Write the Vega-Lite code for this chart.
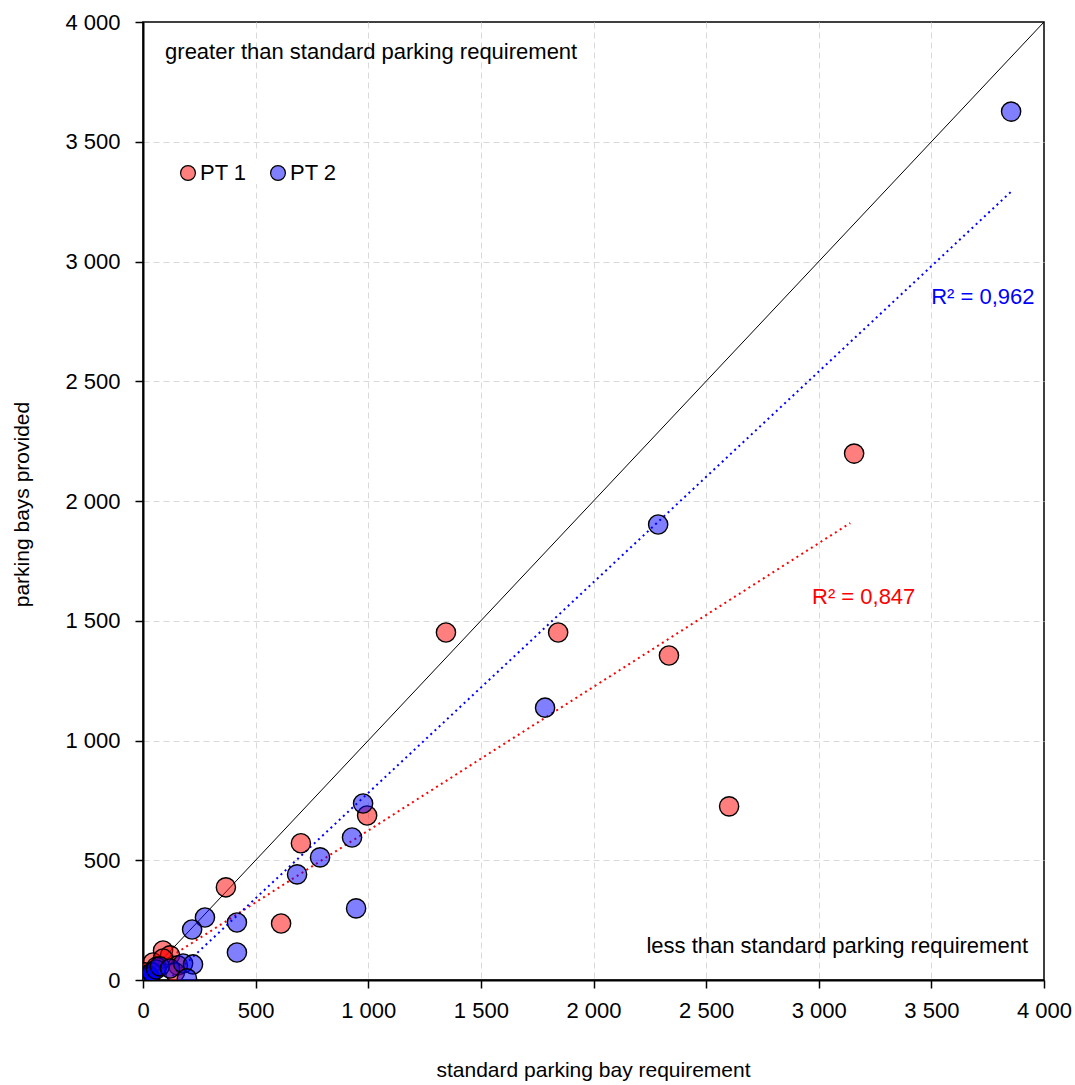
{
  "$schema": "https://vega.github.io/schema/vega-lite/v6.json",
  "width": 901,
  "height": 958,
  "autosize": "none",
  "padding": {"left": 143, "top": 22, "right": 31, "bottom": 105},
  "background": "white",
  "config": {
    "font": "Liberation Sans",
    "view": {"stroke": "black", "strokeWidth": 1.5},
    "axis": {
      "labelFont": "Liberation Sans",
      "titleFont": "Liberation Sans",
      "labelFontSize": 22,
      "titleFontSize": 21,
      "labelColor": "black",
      "titleColor": "black",
      "titleFontWeight": "normal",
      "domainColor": "black",
      "domainWidth": 2,
      "tickColor": "black",
      "tickWidth": 1.5,
      "tickSize": 8,
      "grid": true,
      "gridColor": "#d9d9d9",
      "gridDash": [6, 4],
      "gridWidth": 1,
      "gridOpacity": {"condition": {"test": "datum.value === 0 || datum.value === 4000", "value": 0}, "value": 1}
    }
  },
  "datasets": {
    "points": [
      {"series": "PT 1", "standard": 1345, "provided": 1451},
      {"series": "PT 1", "standard": 1843, "provided": 1451},
      {"series": "PT 1", "standard": 2335, "provided": 1355},
      {"series": "PT 1", "standard": 2602, "provided": 725},
      {"series": "PT 1", "standard": 3157, "provided": 2198},
      {"series": "PT 1", "standard": 995, "provided": 687},
      {"series": "PT 1", "standard": 701, "provided": 571},
      {"series": "PT 1", "standard": 368, "provided": 387},
      {"series": "PT 1", "standard": 613, "provided": 236},
      {"series": "PT 1", "standard": 89, "provided": 123},
      {"series": "PT 1", "standard": 120, "provided": 103},
      {"series": "PT 1", "standard": 44, "provided": 73},
      {"series": "PT 1", "standard": 89, "provided": 90},
      {"series": "PT 1", "standard": 9, "provided": 32},
      {"series": "PT 1", "standard": 155, "provided": 61},
      {"series": "PT 1", "standard": 142, "provided": 32},
      {"series": "PT 1", "standard": 60, "provided": 55},
      {"series": "PT 2", "standard": 3854, "provided": 3626},
      {"series": "PT 2", "standard": 2287, "provided": 1902},
      {"series": "PT 2", "standard": 1785, "provided": 1137},
      {"series": "PT 2", "standard": 977, "provided": 737},
      {"series": "PT 2", "standard": 928, "provided": 595},
      {"series": "PT 2", "standard": 786, "provided": 512},
      {"series": "PT 2", "standard": 684, "provided": 441},
      {"series": "PT 2", "standard": 946, "provided": 299},
      {"series": "PT 2", "standard": 417, "provided": 240},
      {"series": "PT 2", "standard": 417, "provided": 115},
      {"series": "PT 2", "standard": 275, "provided": 261},
      {"series": "PT 2", "standard": 218, "provided": 211},
      {"series": "PT 2", "standard": 0, "provided": 7},
      {"series": "PT 2", "standard": 5, "provided": 3},
      {"series": "PT 2", "standard": 13, "provided": 11},
      {"series": "PT 2", "standard": 22, "provided": 19},
      {"series": "PT 2", "standard": 30, "provided": 14},
      {"series": "PT 2", "standard": 40, "provided": 32},
      {"series": "PT 2", "standard": 58, "provided": 44},
      {"series": "PT 2", "standard": 75, "provided": 57},
      {"series": "PT 2", "standard": 120, "provided": 48},
      {"series": "PT 2", "standard": 178, "provided": 69},
      {"series": "PT 2", "standard": 222, "provided": 65},
      {"series": "PT 2", "standard": 195, "provided": 7}
    ],
    "diagonal": [
      {"standard": 0, "provided": 0},
      {"standard": 4000, "provided": 4000}
    ],
    "trendPT1": [
      {"standard": 0, "provided": 24},
      {"standard": 3140, "provided": 1908}
    ],
    "trendPT2": [
      {"standard": 112, "provided": 0},
      {"standard": 3860, "provided": 3297}
    ],
    "noteLeft": [
      {"standard": 98, "provided": 3873, "text": "greater than standard parking requirement"}
    ],
    "noteRight": [
      {"standard": 3929, "provided": 140, "text": "less than standard parking requirement"}
    ],
    "noteBlue": [
      {"standard": 3499, "provided": 2850, "text": "R² = 0,962"}
    ],
    "noteRed": [
      {"standard": 2970, "provided": 1601, "text": "R² = 0,847"}
    ]
  },
  "layer": [
    {
      "data": {"name": "diagonal"},
      "mark": {"type": "line", "color": "black", "strokeWidth": 1, "clip": true},
      "encoding": {
        "x": {
          "field": "standard",
          "type": "quantitative",
          "scale": {"domain": [0, 4000], "nice": false},
          "axis": {
            "values": [0, 500, 1000, 1500, 2000, 2500, 3000, 3500, 4000],
            "labelExpr": "replace(format(datum.value, ','), ',', ' ')",
            "title": "standard parking bay requirement",
            "labelPadding": 12,
            "labelFlush": false,
            "titleX": 450,
            "titleY": 90,
            "titleBaseline": "middle",
            "titleAlign": "center"
          }
        },
        "y": {
          "field": "provided",
          "type": "quantitative",
          "scale": {"domain": [0, 4000], "nice": false},
          "axis": {
            "values": [0, 500, 1000, 1500, 2000, 2500, 3000, 3500, 4000],
            "labelExpr": "replace(format(datum.value, ','), ',', ' ')",
            "title": "parking bays provided",
            "labelPadding": 15,
            "labelFlush": false,
            "titleX": -121,
            "titleY": 482,
            "titleAngle": -90,
            "titleBaseline": "middle",
            "titleAlign": "center"
          }
        }
      }
    },
    {
      "data": {"name": "trendPT1"},
      "mark": {"type": "line", "color": "#ff0000", "strokeWidth": 2, "strokeDash": [2, 3.7], "clip": true},
      "encoding": {
        "x": {"field": "standard", "type": "quantitative"},
        "y": {"field": "provided", "type": "quantitative"}
      }
    },
    {
      "data": {"name": "trendPT2"},
      "mark": {"type": "line", "color": "#0000ff", "strokeWidth": 2, "strokeDash": [2, 3.7], "clip": true},
      "encoding": {
        "x": {"field": "standard", "type": "quantitative"},
        "y": {"field": "provided", "type": "quantitative"}
      }
    },
    {
      "data": {"name": "points"},
      "mark": {"type": "circle", "size": 370, "fillOpacity": 0.5, "stroke": "black", "strokeWidth": 1.4, "strokeOpacity": 1, "clip": true},
      "encoding": {
        "x": {"field": "standard", "type": "quantitative"},
        "y": {"field": "provided", "type": "quantitative"},
        "fill": {
          "field": "series",
          "type": "nominal",
          "scale": {"domain": ["PT 1", "PT 2"], "range": ["#ff0000", "#0000ff"]},
          "legend": {
            "title": null,
            "orient": "none",
            "direction": "horizontal",
            "legendX": 34,
            "legendY": 140,
            "padding": 0,
            "symbolType": "circle",
            "symbolSize": 220,
            "symbolStrokeColor": "black",
            "symbolStrokeWidth": 1.2,
            "labelFontSize": 22,
            "labelFont": "Liberation Sans",
            "labelColor": "black",
            "labelOffset": 1,
            "columnPadding": 20,
            "fillColor": "white",
            "encode": {
              "symbols": {"update": {"fillOpacity": {"value": 0.5}, "strokeOpacity": {"value": 1}, "opacity": {"value": 1}}}
            }
          }
        }
      }
    },
    {
      "data": {"name": "noteLeft"},
      "mark": {"type": "text", "fontSize": 22, "color": "black", "baseline": "middle", "align": "left"},
      "encoding": {
        "x": {"field": "standard", "type": "quantitative"},
        "y": {"field": "provided", "type": "quantitative"},
        "text": {"field": "text"}
      }
    },
    {
      "data": {"name": "noteRight"},
      "mark": {"type": "text", "fontSize": 22, "color": "black", "baseline": "middle", "align": "right"},
      "encoding": {
        "x": {"field": "standard", "type": "quantitative"},
        "y": {"field": "provided", "type": "quantitative"},
        "text": {"field": "text"}
      }
    },
    {
      "data": {"name": "noteBlue"},
      "mark": {"type": "text", "fontSize": 22, "color": "#0000ff", "baseline": "middle", "align": "left"},
      "encoding": {
        "x": {"field": "standard", "type": "quantitative"},
        "y": {"field": "provided", "type": "quantitative"},
        "text": {"field": "text"}
      }
    },
    {
      "data": {"name": "noteRed"},
      "mark": {"type": "text", "fontSize": 22, "color": "#ff0000", "baseline": "middle", "align": "left"},
      "encoding": {
        "x": {"field": "standard", "type": "quantitative"},
        "y": {"field": "provided", "type": "quantitative"},
        "text": {"field": "text"}
      }
    }
  ]
}
